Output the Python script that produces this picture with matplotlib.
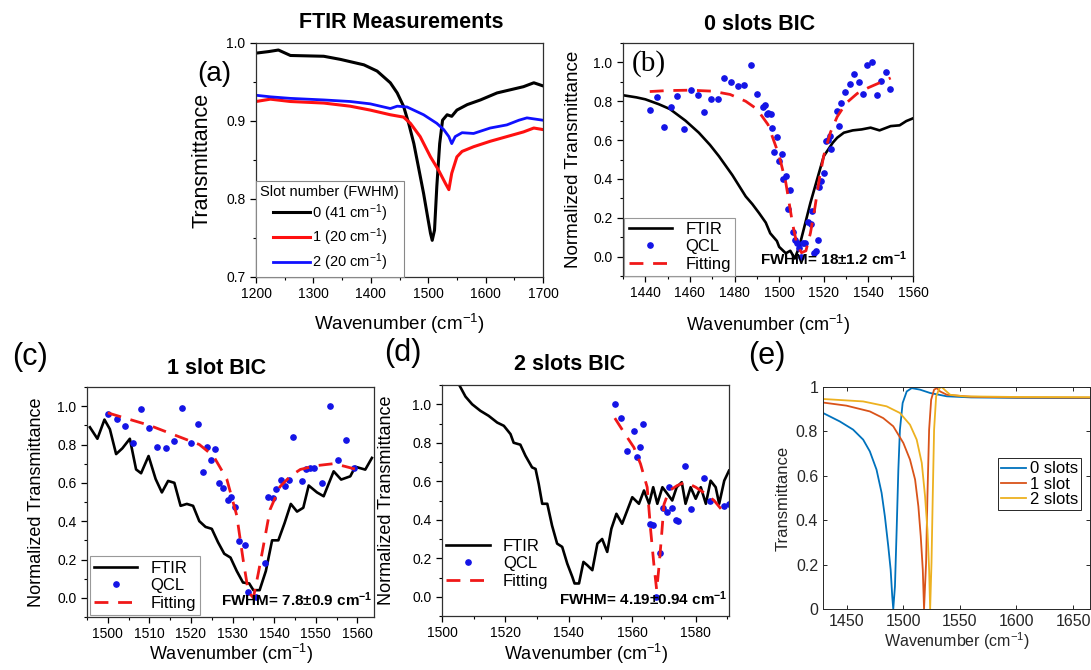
import numpy as np
import matplotlib
matplotlib.use("Agg")
import matplotlib.pyplot as plt
from matplotlib.ticker import MultipleLocator, FormatStrFormatter

plt.rcParams['font.family'] = ['Liberation Sans', 'DejaVu Sans']
plt.rcParams['mathtext.default'] = 'regular'

# --- DATA ---
# (a) FTIR measurements
a_wn_0 = [1200, 1222, 1239, 1260, 1318, 1347, 1388, 1411, 1434, 1446, 1457, 1466, 1475, 1483,
          1492, 1499, 1504, 1507, 1511, 1515, 1520, 1525, 1533, 1541, 1550, 1568, 1591, 1620,
          1643, 1666, 1684, 1700]
a_t_0 = [0.987, 0.989, 0.991, 0.984, 0.983, 0.979, 0.972, 0.964, 0.949, 0.936, 0.919, 0.897,
         0.871, 0.841, 0.807, 0.777, 0.756, 0.747, 0.760, 0.816, 0.871, 0.901, 0.908, 0.906,
         0.914, 0.921, 0.927, 0.936, 0.940, 0.944, 0.949, 0.945]
a_wn_1 = [1200, 1225, 1260, 1318, 1364, 1399, 1434, 1457, 1469, 1486, 1504, 1518, 1530, 1536,
          1541, 1550, 1559, 1579, 1608, 1637, 1666, 1684, 1700]
a_t_1 = [0.925, 0.928, 0.925, 0.923, 0.919, 0.914, 0.908, 0.905, 0.897, 0.880, 0.854, 0.837,
         0.820, 0.812, 0.833, 0.854, 0.861, 0.867, 0.874, 0.880, 0.886, 0.891, 0.889]
a_wn_2 = [1200, 1225, 1260, 1318, 1364, 1399, 1434, 1446, 1463, 1492, 1515, 1527, 1536, 1541,
          1547, 1559, 1579, 1608, 1637, 1658, 1672, 1700]
a_t_2 = [0.933, 0.931, 0.929, 0.927, 0.925, 0.922, 0.916, 0.919, 0.918, 0.908, 0.897, 0.889,
         0.880, 0.871, 0.880, 0.885, 0.884, 0.891, 0.895, 0.901, 0.904, 0.901]
a_labels = ["0 (41 cm$^{-1}$)", "1 (20 cm$^{-1}$)", "2 (20 cm$^{-1}$)"]

# (b) 0 slots BIC
b_ftir_wn = [1430, 1436, 1440, 1446, 1451, 1458, 1464, 1469, 1473, 1479, 1485, 1488, 1491, 1494,
             1496, 1499, 1500, 1503, 1505, 1507, 1509, 1511, 1514, 1517, 1520, 1524, 1526, 1529,
             1533, 1537, 1541, 1545, 1550, 1554, 1557, 1560]
b_ftir_t = [0.831, 0.82, 0.81, 0.785, 0.76, 0.70, 0.638, 0.575, 0.517, 0.42, 0.31, 0.27, 0.224,
            0.175, 0.12, 0.08, 0.05, 0.017, 0.03, -0.01, 0.05, 0.14, 0.276, 0.397, 0.517, 0.586,
            0.612, 0.638, 0.650, 0.655, 0.664, 0.650, 0.672, 0.676, 0.698, 0.712]
b_qcl_wn = [1442.3, 1445.4, 1448.4, 1451.4, 1454.4, 1457.4, 1460.4, 1463.4, 1466.4, 1469.4,
            1472.4, 1475.1, 1478.4, 1481.4, 1484.4, 1487.2, 1490.2, 1492.9, 1493.6, 1494.4,
            1495.1, 1496.2, 1496.9, 1497.8, 1498.9, 1499.9, 1501.1, 1501.9, 1503.1, 1503.8,
            1504.9, 1506.1, 1506.9, 1507.8, 1508.7, 1509.6, 1510.5, 1511.6, 1513.1, 1514.2,
            1514.9, 1515.8, 1516.6, 1517.2, 1517.9, 1518.8, 1519.9, 1520.9, 1521.8, 1522.6,
            1523.1, 1525.8, 1526.7, 1527.8, 1529.6, 1531.8, 1533.7, 1535.7, 1537.8, 1539.6,
            1541.5, 1543.8, 1545.7, 1547.8, 1549.8]
b_qcl_t = [0.755, 0.822, 0.666, 0.772, 0.828, 0.659, 0.859, 0.833, 0.747, 0.81, 0.81, 0.919,
           0.897, 0.879, 0.884, 0.986, 0.836, 0.772, 0.78, 0.733, 0.738, 0.736, 0.664, 0.538,
           0.617, 0.491, 0.53, 0.397, 0.417, 0.245, 0.341, 0.129, 0.086, 0.072, 0.043, 0.0,
           0.072, 0.072, 0.176, 0.169, 0.233, 0.017, 0.031, 0.083, 0.359, 0.388, 0.429, 0.595,
           0.603, 0.619, 0.552, 0.748, 0.672, 0.793, 0.848, 0.891, 0.940, 0.897, 0.836, 0.986,
           1.0, 0.831, 0.905, 0.950, 0.862]
b_fit_wn = [1442, 1450, 1460, 1470, 1478, 1485, 1490, 1495, 1500, 1503, 1506, 1508, 1510, 1512,
            1514, 1516, 1518, 1520, 1523, 1526, 1530, 1535, 1540, 1545, 1550]
b_fit_t = [0.85, 0.855, 0.857, 0.852, 0.835, 0.80, 0.76, 0.68, 0.52, 0.38, 0.17, 0.06, 0.02,
           0.03, 0.12, 0.25, 0.40, 0.52, 0.64, 0.72, 0.79, 0.84, 0.87, 0.895, 0.92]

# (c) 1 slot BIC
c_ftir_wn = [1495.7, 1497.5, 1499.2, 1500.5, 1502.0, 1503.5, 1505.3, 1506.8, 1508.0, 1509.8,
             1511.5, 1513.0, 1514.5, 1516.0, 1517.5, 1519.0, 1520.5, 1522.0, 1523.5, 1525.0,
             1526.5, 1528.0, 1529.5, 1531.0, 1532.5, 1534.0, 1535.0, 1536.5, 1538.0, 1539.5,
             1541.0, 1542.5, 1544.0, 1545.5, 1547.0, 1548.3, 1550.3, 1551.9, 1554.3, 1556.1,
             1558.3, 1559.5, 1561.9, 1563.5]
c_ftir_t = [0.89, 0.83, 0.93, 0.88, 0.75, 0.78, 0.83, 0.67, 0.65, 0.74, 0.62, 0.55, 0.61, 0.60,
            0.48, 0.49, 0.48, 0.40, 0.37, 0.36, 0.29, 0.23, 0.21, 0.14, 0.08, 0.075, 0.04, 0.04,
            0.14, 0.30, 0.30, 0.39, 0.49, 0.45, 0.47, 0.586, 0.55, 0.53, 0.66, 0.617, 0.634,
            0.684, 0.669, 0.73]
c_qcl_wn = [1500.1, 1502.1, 1504.1, 1506.1, 1508.0, 1510.0, 1511.9, 1514.0, 1515.9, 1517.9,
            1519.9, 1521.8, 1522.8, 1523.9, 1524.8, 1525.8, 1526.8, 1527.8, 1528.8, 1529.7,
            1530.7, 1531.6, 1532.9, 1533.8, 1535.7, 1537.7, 1538.6, 1539.7, 1540.5, 1541.7,
            1542.7, 1543.6, 1544.5, 1546.7, 1547.6, 1548.7, 1549.6, 1551.6, 1553.5, 1555.3,
            1557.3, 1559.2]
c_qcl_t = [0.957, 0.931, 0.898, 0.81, 0.983, 0.888, 0.786, 0.783, 0.816, 0.991, 0.807, 0.907,
           0.659, 0.786, 0.717, 0.779, 0.597, 0.574, 0.509, 0.526, 0.474, 0.298, 0.276, 0.031,
           0.003, 0.181, 0.526, 0.519, 0.569, 0.614, 0.583, 0.614, 0.838, 0.609, 0.674, 0.678,
           0.678, 0.597, 1.0, 0.721, 0.824, 0.678]
c_fit_wn = [1500, 1510, 1522, 1525.4, 1528.6, 1531, 1532.6, 1533.8, 1535, 1536.2, 1537.4, 1539,
            1541.4, 1543.9, 1546.3, 1550.3, 1554.3, 1557, 1559.4]
c_fit_t = [0.965, 0.90, 0.80, 0.74, 0.62, 0.43, 0.19, 0.03, 0.0, 0.13, 0.27, 0.46, 0.58, 0.635,
           0.67, 0.69, 0.70, 0.686, 0.672]

# (d) 2 slots BIC
d_ftir_wn = [1505.6, 1507.4, 1509.5, 1512.1, 1514.7, 1517.4, 1519.5, 1521.6, 1522.6, 1524.7,
             1526.3, 1528.4, 1529.5, 1530.5, 1531.6, 1533.2, 1534.7, 1536.3, 1537.9, 1539.5,
             1541.1, 1541.8, 1543.2, 1544.6, 1545.8, 1547.4, 1549.0, 1550.5, 1552.1, 1553.4,
             1555.0, 1556.8, 1558.4, 1560.0, 1562.1, 1563.7, 1565.3, 1566.6, 1567.9, 1569.5,
             1571.1, 1572.6, 1574.0, 1575.6, 1576.8, 1578.4, 1580.0, 1581.6, 1583.2, 1584.7,
             1586.3, 1587.4, 1589.0, 1590.5]
d_ftir_t = [1.095, 1.04, 1.0, 0.966, 0.94, 0.905, 0.888, 0.845, 0.80, 0.79, 0.733, 0.672, 0.664,
            0.586, 0.483, 0.483, 0.37, 0.276, 0.259, 0.172, 0.103, 0.069, 0.069, 0.181, 0.164,
            0.138, 0.276, 0.30, 0.233, 0.353, 0.431, 0.379, 0.448, 0.517, 0.483, 0.552, 0.483,
            0.569, 0.483, 0.569, 0.534, 0.50, 0.569, 0.595, 0.483, 0.569, 0.509, 0.569, 0.483,
            0.603, 0.569, 0.483, 0.603, 0.655]
d_qcl_wn = [1554.5, 1556.5, 1558.4, 1560.5, 1561.6, 1562.4, 1563.5, 1565.6, 1566.6, 1567.6,
            1568.7, 1569.8, 1570.8, 1571.6, 1572.6, 1573.7, 1574.4, 1576.5, 1578.6, 1582.6,
            1584.5, 1588.9, 1590.5]
d_qcl_t = [1.0, 0.931, 0.759, 0.862, 0.724, 0.776, 0.90, 0.376, 0.371, 0.0, 0.228, 0.462, 0.44,
           0.571, 0.46, 0.40, 0.391, 0.681, 0.457, 0.616, 0.495, 0.469, 0.48]
d_fit_wn = [1554.5, 1557.4, 1560.5, 1562.6, 1564.7, 1565.8, 1566.8, 1567.7, 1568.5, 1569.2,
            1570.0, 1571.6, 1574.2, 1576.8, 1580.0, 1583.2, 1585.8, 1588.4]
d_fit_t = [0.928, 0.853, 0.776, 0.69, 0.569, 0.345, 0.17, 0.034, 0.17, 0.31, 0.48, 0.55, 0.578,
           0.595, 0.569, 0.534, 0.50, 0.448]

# (e) simulation
e_wn_0 = [1429, 1443.8, 1455.6, 1464.5, 1470.4, 1476.3, 1480.8, 1483.7, 1486.7, 1488.8, 1490.2,
          1491.1, 1492.6, 1494.1, 1495.6, 1497.0, 1499.4, 1503.0, 1507.4, 1514.8, 1523.7,
          1538.5, 1560, 1600, 1665]
e_t_0 = [0.883, 0.845, 0.808, 0.763, 0.71, 0.628, 0.523, 0.417, 0.282, 0.177, 0.057, 0.0, 0.102,
         0.357, 0.628, 0.808, 0.928, 0.98, 0.995, 0.988, 0.973, 0.958, 0.953, 0.951, 0.950]
e_wn_1 = [1429, 1449.7, 1470.4, 1482.2, 1491.1, 1500.0, 1505.9, 1510.4, 1513.3, 1515.4, 1517.2,
          1518.3, 1520.1, 1521.3, 1522.8, 1524.6, 1527.2, 1529.6, 1532.5, 1538.5, 1560, 1600,
          1665]
e_t_1 = [0.93, 0.916, 0.89, 0.86, 0.823, 0.748, 0.673, 0.583, 0.462, 0.327, 0.177, 0.0, 0.207,
         0.508, 0.808, 0.943, 0.988, 0.995, 0.98, 0.965, 0.956, 0.953, 0.952]
e_wn_2 = [1429, 1464.5, 1485.2, 1497.0, 1505.9, 1511.8, 1516.3, 1519.2, 1521.3, 1522.8, 1523.7,
          1524.9, 1526.0, 1527.2, 1529.0, 1532.0, 1534.0, 1537.0, 1541.4, 1553.3, 1600, 1665]
e_t_2 = [0.946, 0.935, 0.913, 0.883, 0.83, 0.763, 0.658, 0.508, 0.357, 0.177, 0.0, 0.207, 0.508,
         0.808, 0.958, 0.995, 1.0, 0.985, 0.965, 0.958, 0.955, 0.954]
e_labels = ["0 slots", "1 slot", "2 slots"]

W, H = 1091, 670
fig = plt.figure(figsize=(W / 100, H / 100), dpi=100)


def rect(x0, y0, x1, y1):
    return [x0 / W, 1 - y1 / H, (x1 - x0) / W, (y1 - y0) / H]


def origin_style(ax):
    ax.tick_params(which='both', direction='out', labelsize=10, top=False, right=False)
    ax.tick_params(which='major', length=4, width=0.9)
    ax.tick_params(which='minor', length=2.2, width=0.8)
    for s in ax.spines.values():
        s.set_color('#303030')
        s.set_linewidth(0.9)


ftir_kw = dict(color='black', lw=1.9)
qcl_kw = dict(color='#1414e6', ls='none', marker='o', ms=3.8)
fit_kw = dict(color='#f01818', lw=2.0, ls=(0, (5, 3.5)))

# --- (a) ---
ax = fig.add_axes(rect(256, 43, 543, 277))
ax.plot(a_wn_0, a_t_0, color='black', lw=2.2, label=a_labels[0])
ax.plot(a_wn_1, a_t_1, color='#ff1010', lw=2.2, label=a_labels[1])
ax.plot(a_wn_2, a_t_2, color='#1010ff', lw=2.0, label=a_labels[2])
ax.set_xlim(1200, 1700)
ax.set_ylim(0.7, 1.0)
ax.xaxis.set_major_locator(MultipleLocator(100))
ax.xaxis.set_minor_locator(MultipleLocator(50))
ax.yaxis.set_major_locator(MultipleLocator(0.1))
ax.yaxis.set_minor_locator(MultipleLocator(0.05))
ax.yaxis.set_major_formatter(FormatStrFormatter('%.1f'))
origin_style(ax)
ax.set_xlabel("Wavenumber (cm$^{-1}$)", fontsize=13.5)
ax.set_ylabel("Transmittance", fontsize=15.5)
ax.xaxis.set_label_coords(0.5, -0.15)
ax.yaxis.set_label_coords(-0.15, 0.5)
leg = ax.legend(title="Slot number (FWHM)", loc='lower left', bbox_to_anchor=(0, 0),
                borderaxespad=0, fontsize=10.5, title_fontsize=10.5, handlelength=2.6,
                handletextpad=0.1, labelspacing=0.2, borderpad=0.3, fancybox=False,
                edgecolor='#888888', framealpha=1)
leg.get_frame().set_linewidth(0.8)
fig.text(401 / W, 1 - 23 / H, "FTIR Measurements", fontsize=15.5, fontweight='bold',
         ha='center', va='center')
fig.text(214 / W, 1 - 74 / H, "(a)", fontsize=20, ha='center', va='center')

# --- (b) ---
ax = fig.add_axes(rect(623, 43, 913, 276))
ax.plot(b_ftir_wn, b_ftir_t, label="FTIR", **ftir_kw)
ax.plot(b_qcl_wn, b_qcl_t, label="QCL", **qcl_kw)
ax.plot(b_fit_wn, b_fit_t, label="Fitting", **fit_kw)
ax.set_xlim(1430, 1560)
ax.set_ylim(-0.1, 1.1)
ax.xaxis.set_major_locator(MultipleLocator(20))
ax.xaxis.set_minor_locator(MultipleLocator(10))
ax.yaxis.set_major_locator(MultipleLocator(0.2))
ax.yaxis.set_minor_locator(MultipleLocator(0.1))
ax.yaxis.set_major_formatter(FormatStrFormatter('%.1f'))
origin_style(ax)
ax.set_xlabel("Wavenumber (cm$^{-1}$)", fontsize=13)
ax.set_ylabel("Normalized Transmittance", fontsize=13.5)
ax.xaxis.set_label_coords(0.5, -0.158)
ax.yaxis.set_label_coords(-0.14, 0.5)
leg = ax.legend(loc='lower left', bbox_to_anchor=(0.005, 0), borderaxespad=0, fontsize=12,
                handlelength=2.6, numpoints=1, labelspacing=0.15, borderpad=0.25,
                fancybox=False, edgecolor='#999999', framealpha=1)
leg.get_frame().set_linewidth(0.8)
ax.text(0.98, 0.035, "FWHM= 18±1.2 cm$^{-1}$", transform=ax.transAxes, ha='right',
        va='bottom', fontsize=11, fontweight='bold')
ax.text(0.03, 0.97, "(b)", transform=ax.transAxes, ha='left', va='top', fontsize=21,
        family=['Liberation Serif', 'DejaVu Serif'])
fig.text(760 / W, 1 - 24 / H, "0 slots BIC", fontsize=15.5, fontweight='bold',
         ha='center', va='center')

# --- (c) ---
ax = fig.add_axes(rect(87, 387, 374, 617))
ax.plot(c_ftir_wn, c_ftir_t, label="FTIR", **ftir_kw)
ax.plot(c_qcl_wn, c_qcl_t, label="QCL", **qcl_kw)
ax.plot(c_fit_wn, c_fit_t, label="Fitting", **fit_kw)
ax.set_xlim(1495, 1564)
ax.set_ylim(-0.1, 1.1)
ax.xaxis.set_major_locator(MultipleLocator(10))
ax.xaxis.set_minor_locator(MultipleLocator(5))
ax.yaxis.set_major_locator(MultipleLocator(0.2))
ax.yaxis.set_minor_locator(MultipleLocator(0.1))
ax.yaxis.set_major_formatter(FormatStrFormatter('%.1f'))
origin_style(ax)
ax.set_xlabel("Wavenumber (cm$^{-1}$)", fontsize=13)
ax.set_ylabel("Normalized Transmittance", fontsize=13)
ax.xaxis.set_label_coords(0.5, -0.11)
ax.yaxis.set_label_coords(-0.145, 0.5)
leg = ax.legend(loc='lower left', bbox_to_anchor=(0.01, 0.01), borderaxespad=0, fontsize=12,
                handlelength=2.6, numpoints=1, labelspacing=0.15, borderpad=0.25,
                fancybox=False, edgecolor='#999999', framealpha=1)
leg.get_frame().set_linewidth(0.8)
ax.text(0.995, 0.035, "FWHM= 7.8±0.9 cm$^{-1}$", transform=ax.transAxes, ha='right',
        va='bottom', fontsize=11, fontweight='bold')
fig.text(217 / W, 1 - 368 / H, "1 slot BIC", fontsize=15.5, fontweight='bold',
         ha='center', va='center')
fig.text(30 / W, 1 - 357 / H, "(c)", fontsize=22, ha='center', va='center')

# --- (d) ---
ax = fig.add_axes(rect(442, 385, 729, 616))
ax.plot(d_ftir_wn, d_ftir_t, label="FTIR", **ftir_kw)
ax.plot(d_qcl_wn, d_qcl_t, label="QCL", **qcl_kw)
ax.plot(d_fit_wn, d_fit_t, label="Fitting", **fit_kw)
ax.set_xlim(1500, 1590.5)
ax.set_ylim(-0.1, 1.1)
ax.xaxis.set_major_locator(MultipleLocator(20))
ax.xaxis.set_minor_locator(MultipleLocator(10))
ax.yaxis.set_major_locator(MultipleLocator(0.2))
ax.yaxis.set_minor_locator(MultipleLocator(0.1))
ax.yaxis.set_major_formatter(FormatStrFormatter('%.1f'))
origin_style(ax)
ax.set_xlabel("Wavenumber (cm$^{-1}$)", fontsize=13)
ax.set_ylabel("Normalized Transmittance", fontsize=13)
ax.xaxis.set_label_coords(0.5, -0.113)
ax.yaxis.set_label_coords(-0.165, 0.5)
ax.legend(loc='lower left', bbox_to_anchor=(0.0, 0.1), borderaxespad=0, fontsize=12,
          handlelength=2.6, numpoints=1, labelspacing=0.15, borderpad=0.25, frameon=False)
ax.text(0.995, 0.035, "FWHM= 4.19±0.94 cm$^{-1}$", transform=ax.transAxes, ha='right',
        va='bottom', fontsize=11, fontweight='bold')
fig.text(570 / W, 1 - 365 / H, "2 slots BIC", fontsize=15.5, fontweight='bold',
         ha='center', va='center')
fig.text(403 / W, 1 - 353 / H, "(d)", fontsize=22, ha='center', va='center')

# --- (e) ---
ax = fig.add_axes(rect(823, 387, 1090, 609))
e_colors = ['#0072BD', '#D95319', '#EDB120']
ax.plot(e_wn_0, e_t_0, color=e_colors[0], lw=1.3, label=e_labels[0])
ax.plot(e_wn_1, e_t_1, color=e_colors[1], lw=1.3, label=e_labels[1])
ax.plot(e_wn_2, e_t_2, color=e_colors[2], lw=1.3, label=e_labels[2])
ax.set_xlim(1429, 1665)
ax.set_ylim(0, 1)
ax.xaxis.set_major_locator(MultipleLocator(50))
ax.yaxis.set_major_locator(MultipleLocator(0.2))
ax.yaxis.set_major_formatter(FormatStrFormatter('%g'))
ax.tick_params(which='both', direction='in', top=True, right=True, length=3, width=0.7,
               labelsize=11.5, colors='#262626')
for s in ax.spines.values():
    s.set_color('#262626')
    s.set_linewidth(0.7)
ax.set_xlabel("Wavenumber (cm$^{-1}$)", fontsize=11.5, color='#262626')
ax.set_ylabel("Transmittance", fontsize=12, color='#262626')
ax.xaxis.set_label_coords(0.5, -0.095)
ax.yaxis.set_label_coords(-0.12, 0.5)
leg = ax.legend(loc='upper left', bbox_to_anchor=(0.655, 0.68), borderaxespad=0,
                fontsize=12, handlelength=1.5, handletextpad=0.2, labelspacing=0.02,
                borderpad=0.2, fancybox=False, edgecolor='#262626', framealpha=1)
leg.get_frame().set_linewidth(0.7)
fig.text(767 / W, 1 - 356 / H, "(e)", fontsize=22, ha='center', va='center')

fig.savefig("out.png", dpi=100)
